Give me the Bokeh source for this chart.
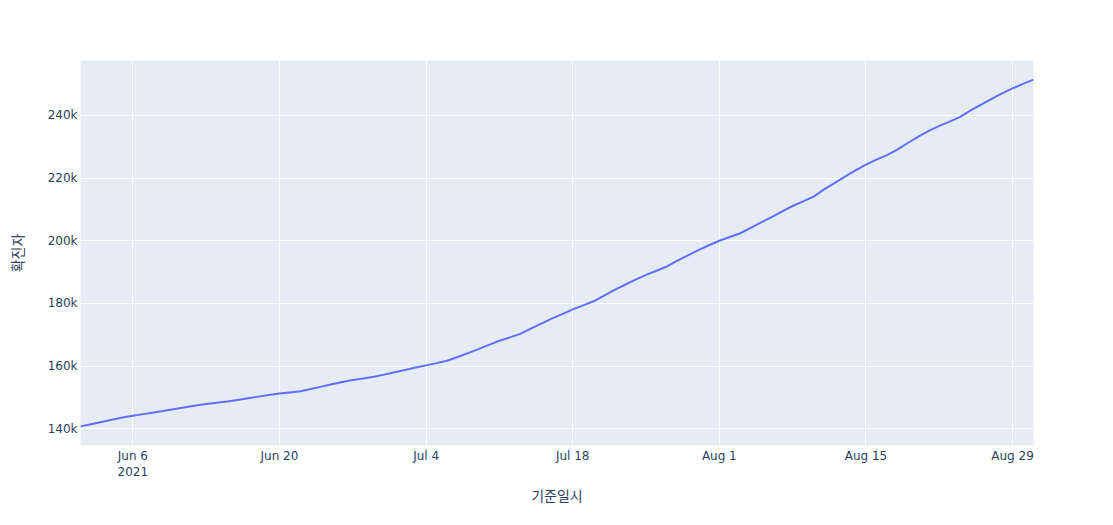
from datetime import datetime, timedelta
from bokeh.plotting import figure
from bokeh.models import Range1d, FixedTicker, ColumnDataSource
from bokeh.embed import file_html
from bokeh.resources import INLINE

# cumulative confirmed cases, one value per day from 2021-06-01 to 2021-08-31
start_date = "2021-06-01"
confirmed = [
    140800, 141500, 142200, 142900, 143600, 144220, 144710, 145200,
    145760, 146320, 146880, 147440, 147930, 148315, 148700,
    149230, 149760, 150290, 150820, 151280, 151640, 152000,
    152740, 153480, 154220, 154960, 155600, 156100, 156600,
    157300, 158050, 158800, 159550, 160250, 160980, 161750,
    162930, 164175, 165460, 166805, 168100, 169180, 170300,
    171950, 173580, 175150, 176630, 178110, 179390, 180700,
    182490, 184340, 185980, 187620, 189110, 190430, 191800,
    193680, 195340, 197040, 198570, 200000, 201210, 202400,
    204110, 205870, 207560, 209370, 211090, 212570, 214100,
    216380, 218420, 220460, 222435, 224295, 225890, 227300,
    229070, 231180, 233190, 235035, 236630, 238020, 239500,
    241610, 243455, 245255, 247010, 248595, 250050, 251400,
]
x_tick_dates = ["2021-06-06", "2021-06-20", "2021-07-04", "2021-07-18",
                "2021-08-01", "2021-08-15", "2021-08-29"]
x_tick_labels = ["Jun 6\n2021", "Jun 20", "Jul 4", "Jul 18", "Aug 1", "Aug 15", "Aug 29"]
y_ticks = [140000, 160000, 180000, 200000, 220000, 240000]
y_tick_labels = ["140k", "160k", "180k", "200k", "220k", "240k"]
x_title = "기준일시"
y_title = "확진자"

d0 = datetime.strptime(start_date, "%Y-%m-%d")
dates = [d0 + timedelta(days=i) for i in range(len(confirmed))]
src = ColumnDataSource(dict(date=dates, confirmed=confirmed))

def ms(d):
    return (d - datetime(1970, 1, 1)).total_seconds() * 1000.0

tick_ms = [ms(datetime.strptime(t, "%Y-%m-%d")) for t in x_tick_dates]

p = figure(width=1097, height=517, x_axis_type="datetime",
           output_backend="svg", toolbar_location=None,
           min_border_left=80, min_border_right=64,
           min_border_top=60, min_border_bottom=72)
p.x_range = Range1d(ms(dates[0]), ms(dates[-1]))
p.y_range = Range1d(134700, 257500)

p.background_fill_color = "#E5ECF6"
p.border_fill_color = "white"
p.outline_line_color = None

p.line("date", "confirmed", source=src, line_color="#636EFA", line_width=2)

font = "DejaVu Sans"
tc = "#2a3f5f"

p.xaxis.ticker = FixedTicker(ticks=tick_ms)
p.xaxis.major_label_overrides = {t: l for t, l in zip(tick_ms, x_tick_labels)}
p.yaxis.ticker = FixedTicker(ticks=y_ticks)
p.yaxis.major_label_overrides = {t: l for t, l in zip(y_ticks, y_tick_labels)}

for ax in (p.xaxis, p.yaxis):
    ax.axis_line_color = None
    ax.major_tick_line_color = None
    ax.minor_tick_line_color = None
    ax.major_tick_out = 0
    ax.major_tick_in = 0
    ax.major_label_text_font = font
    ax.major_label_text_font_size = "12px"
    ax.major_label_text_color = tc
    ax.axis_label_text_font = "Noto Sans CJK KR"
    ax.axis_label_text_font_size = "14px"
    ax.axis_label_text_color = tc
    ax.axis_label_text_font_style = "normal"

p.xaxis.axis_label = x_title
p.yaxis.axis_label = y_title
p.xaxis.major_label_standoff = 3
p.yaxis.major_label_standoff = 3
p.xaxis.axis_label_standoff = 3
p.yaxis.axis_label_standoff = 18

p.xgrid.grid_line_color = "white"
p.ygrid.grid_line_color = "white"
p.xgrid.grid_line_width = 1
p.ygrid.grid_line_width = 1

open("out.html", "w").write(file_html(p, INLINE))
